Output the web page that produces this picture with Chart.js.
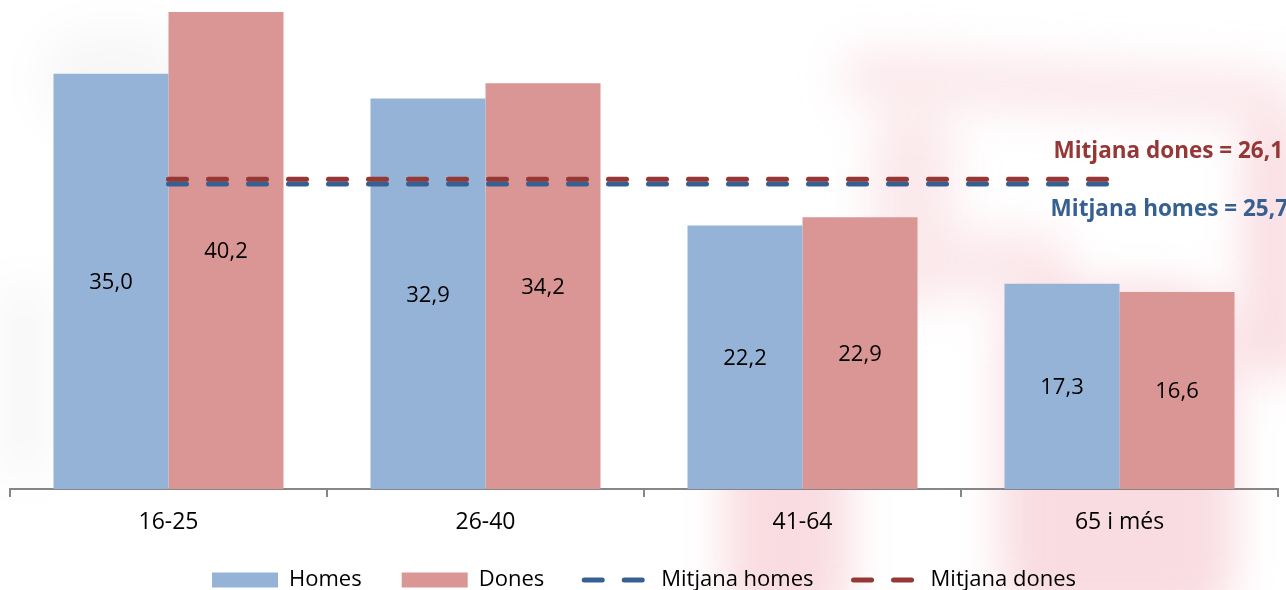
<!DOCTYPE html>
<html>
<head>
<meta charset="utf-8">
<script src="https://cdn.jsdelivr.net/npm/chart.js@4/dist/chart.umd.min.js"></script>
<style>
  html, body { margin: 0; padding: 0; overflow: hidden; background: #ffffff; }
  #wrap { position: relative; width: 1286px; height: 601px; overflow: hidden; background: #ffffff; }
  #bg { position: absolute; left: -60px; top: -60px; width: 1406px; height: 721px; filter: blur(22px); }
  #bg div { position: absolute; background: rgba(240,168,180,0.40); }
  #bg .f { background: rgba(240,168,180,0.25); }
  #bg .g { background: rgba(0,0,0,0.03); }
  canvas { position: absolute; left: 0; top: 0; }
</style>
</head>
<body>
<div id="wrap">
  <div id="bg">
    <div style="left:785px;top:360px;width:125px;height:330px;border-radius:50px;"></div>
    <div style="left:1060px;top:345px;width:235px;height:340px;border-radius:60px;"></div>
    <div class="f" style="left:900px;top:120px;width:460px;height:55px;border-radius:30px;transform:rotate(3deg);"></div>
    <div class="f" style="left:930px;top:170px;width:85px;height:200px;border-radius:40px;"></div>
    <div style="left:1305px;top:180px;width:60px;height:260px;border-radius:30px;"></div>
    <div class="f" style="left:1010px;top:290px;width:120px;height:70px;border-radius:30px;"></div>
    <div class="g" style="left:100px;top:90px;width:150px;height:100px;border-radius:60px;"></div>
    <div class="g" style="left:60px;top:340px;width:50px;height:200px;border-radius:30px;"></div>
  </div>
  <canvas id="c" width="1286" height="601"></canvas>
</div>
<script>
const categories = ['16-25', '26-40', '41-64', '65 i més'];
const homes = [35.0, 32.9, 22.2, 17.3];
const dones = [40.2, 34.2, 22.9, 16.6];
const mitjanaHomes = 25.7;
const mitjanaDones = 26.1;
const seriesNames = ['Homes', 'Dones', 'Mitjana homes', 'Mitjana dones'];
const meanLabels = ['Mitjana homes = 25,7', 'Mitjana dones = 26,1'];

const FONT = "'Open Sans', 'DejaVu Sans', sans-serif";
const fmt = v => v.toFixed(1).replace('.', ',');

const barLabels = {
  id: 'barLabels',
  afterDatasetsDraw(chart) {
    const ctx = chart.ctx;
    ctx.save();
    ctx.font = "22px " + FONT;
    ctx.fillStyle = '#000000';
    ctx.textAlign = 'center';
    ctx.textBaseline = 'middle';
    [0, 1].forEach(di => {
      const meta = chart.getDatasetMeta(di);
      meta.data.forEach((el, i) => {
        const v = chart.data.datasets[di].data[i];
        ctx.fillText(fmt(v), el.x, (el.y + el.base) / 2 + 1.5);
      });
    });
    ctx.restore();
  }
};

const meanText = {
  id: 'meanText',
  afterDatasetsDraw(chart) {
    const ctx = chart.ctx;
    const y = chart.scales.y;
    ctx.save();
    ctx.font = "bold 22.5px " + FONT;
    ctx.textAlign = 'right';
    ctx.textBaseline = 'alphabetic';
    ctx.fillStyle = '#953735';
    ctx.fillText(meanLabels[1], 1283, y.getPixelForValue(mitjanaDones) - 21);
    ctx.fillStyle = '#376092';
    ctx.fillText(meanLabels[0], 1288, y.getPixelForValue(mitjanaHomes) + 32);
    ctx.restore();
  }
};

new Chart(document.getElementById('c'), {
  type: 'bar',
  data: {
    labels: categories,
    datasets: [
      { type: 'bar', label: seriesNames[0], data: homes, backgroundColor: '#95B3D7', borderWidth: 0, order: 3, pointStyle: 'rect' },
      { type: 'bar', label: seriesNames[1], data: dones, backgroundColor: '#DA9694', borderWidth: 0, order: 3, pointStyle: 'rect' },
      { type: 'line', label: seriesNames[2], data: categories.map(() => mitjanaHomes), borderColor: '#376092', backgroundColor: '#376092',
        borderWidth: 5, borderDash: [18, 22], borderCapStyle: 'round', pointRadius: 0, pointHoverRadius: 0, pointStyle: 'line', fill: false, order: 2 },
      { type: 'line', label: seriesNames[3], data: categories.map(() => mitjanaDones), borderColor: '#953735', backgroundColor: '#953735',
        borderWidth: 5, borderDash: [18, 22], borderCapStyle: 'round', pointRadius: 0, pointHoverRadius: 0, pointStyle: 'line', fill: false, order: 1 }
    ]
  },
  options: {
    responsive: false,
    animation: false,
    events: [],
    layout: { padding: { left: 10, right: 8, top: 12, bottom: 0 } },
    datasets: { bar: { categoryPercentage: 0.7256, barPercentage: 1.0 } },
    scales: {
      x: {
        offset: true,
        grid: { display: true, drawOnChartArea: false, drawTicks: true, tickLength: 8, color: '#868686', lineWidth: 2, offset: true },
        border: { display: true, color: '#868686', width: 2 },
        ticks: { color: '#000000', font: { family: FONT, size: 23 }, padding: 12, maxRotation: 0 },
        afterFit(scale) { scale.height = 40; }
      },
      y: { display: false, min: 0, max: 40.2 }
    },
    plugins: {
      legend: {
        position: 'bottom',
        labels: {
          usePointStyle: true,
          pointStyleWidth: 66,
          boxHeight: 15,
          padding: 40,
          color: '#000000',
          font: { family: FONT, size: 22 },
          sort: (a, b) => a.datasetIndex - b.datasetIndex,
          generateLabels(chart) {
            const items = Chart.defaults.plugins.legend.labels.generateLabels(chart);
            items.forEach(it => {
              const ds = chart.data.datasets[it.datasetIndex];
              if (ds.type === 'line') {
                it.lineDash = ds.borderDash;
                it.lineCap = 'round';
                it.lineWidth = ds.borderWidth;
                it.strokeStyle = ds.borderColor;
                it.pointStyle = 'line';
              }
            });
            return items;
          }
        }
      },
      tooltip: { enabled: false }
    }
  },
  plugins: [barLabels, meanText]
});
</script>
</body>
</html>
